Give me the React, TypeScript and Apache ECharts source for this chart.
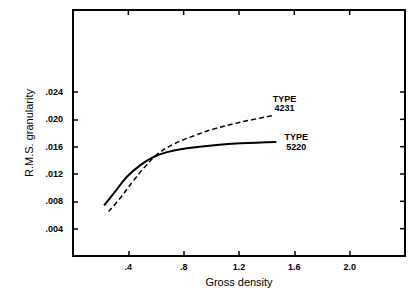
import React, { useEffect, useRef } from "react";
import * as echarts from "echarts";

const xTickValues = [0.4, 0.8, 1.2, 1.6, 2.0];
const xTickLabels = [".4", ".8", "1.2", "1.6", "2.0"];
const yTickValues = [0.004, 0.008, 0.012, 0.016, 0.02, 0.024];
const yTickLabels = [".004", ".008", ".012", ".016", ".020", ".024"];
const xMin = 0;
const xMax = 2.4;
const yMin = 0;
const yMax = 0.036;

const type5220X = [0.225, 0.3, 0.39, 0.487, 0.584, 0.68, 0.8, 1.02, 1.21, 1.47];
const type5220Y = [0.0074, 0.0093, 0.0116, 0.0133, 0.0145, 0.0152, 0.0157, 0.0162, 0.0165, 0.0167];

const type4231X = [0.257, 0.342, 0.44, 0.535, 0.61, 0.73, 0.875, 1.02, 1.215, 1.457];
const type4231Y = [0.0065, 0.0085, 0.0111, 0.0134, 0.0149, 0.0164, 0.0176, 0.0186, 0.0196, 0.0206];

const FONT = "Liberation Sans";

function labelFor(values: number[], labels: string[]) {
  return (v: number) => {
    const i = values.findIndex((t) => Math.abs(t - v) < 1e-9);
    return i >= 0 ? labels[i] : "";
  };
}

export default function App() {
  const ref = useRef<HTMLDivElement>(null);
  useEffect(() => {
    if (!ref.current) return;
    const chart = echarts.init(ref.current, undefined, { renderer: "svg" });
    const mkLine = () => ({ show: true, onZero: false, lineStyle: { color: "#000", width: 2 } });
    const mkTick = (vals: number[]) => ({
      show: true,
      inside: true,
      length: 5,
      customValues: vals,
      lineStyle: { color: "#000", width: 1.5 },
    });
    const labelStyle = {
      color: "#000",
      fontFamily: FONT,
      fontWeight: "bold",
      fontSize: 9,
    };
    chart.setOption({
      animation: false,
      grid: { left: 73, right: 9, top: 10, bottom: 34 },
      xAxis: {
        type: "value",
        min: xMin,
        max: xMax,
        interval: 0.4,
        position: "bottom",
        axisLine: mkLine(),
        axisTick: mkTick(xTickValues),
        splitLine: { show: false },
        axisLabel: {
          ...labelStyle,
          customValues: xTickValues,
          formatter: labelFor(xTickValues, xTickLabels),
          margin: 6,
        },
        name: "Gross density",
        nameLocation: "middle",
        nameGap: 20,
        nameTextStyle: { color: "#000", fontFamily: FONT, fontSize: 11 },
      },
      yAxis: {
        type: "value",
        min: yMin,
        max: yMax,
        interval: 0.004,
        position: "left",
        axisLine: mkLine(),
        axisTick: mkTick(yTickValues),
        splitLine: { show: false },
        axisLabel: {
          ...labelStyle,
          customValues: yTickValues,
          formatter: labelFor(yTickValues, yTickLabels),
          margin: 10,
        },
        name: "R.M.S. granularity",
        nameLocation: "middle",
        nameGap: 38,
        nameTextStyle: { color: "#000", fontFamily: FONT, fontSize: 11 },
      },
      series: [
        {
          type: "custom",
          name: "frame",
          silent: true,
          clip: false,
          z: 5,
          data: [[xMin, yMin]],
          renderItem: (_params: any, api: any) => {
            const bl = api.coord([xMin, yMin]);
            const tr = api.coord([xMax, yMax]);
            const children: any[] = [
              {
                type: "polyline",
                shape: {
                  points: [
                    [bl[0], bl[1]],
                    [bl[0], tr[1]],
                    [tr[0], tr[1]],
                    [tr[0], bl[1]],
                    [bl[0], bl[1]],
                  ],
                },
                style: { fill: "none", stroke: "#000", lineWidth: 2 },
              },
            ];
            xTickValues.forEach((v) => {
              const p = api.coord([v, yMax]);
              children.push({
                type: "line",
                shape: { x1: p[0], y1: p[1], x2: p[0], y2: p[1] + 5 },
                style: { stroke: "#000", lineWidth: 1.5 },
              });
            });
            yTickValues.forEach((v) => {
              const p = api.coord([xMax, v]);
              children.push({
                type: "line",
                shape: { x1: p[0] - 5, y1: p[1], x2: p[0], y2: p[1] },
                style: { stroke: "#000", lineWidth: 1.5 },
              });
            });
            return { type: "group", children };
          },
        },
        {
          type: "line",
          name: "5220",
          data: type5220X.map((x, i) => [x, type5220Y[i]]),
          smooth: 0.4,
          showSymbol: false,
          lineStyle: { color: "#000", width: 2 },
          endLabel: {
            ...labelStyle,
            show: true,
            formatter: "TYPE\n5220",
            lineHeight: 10,
            align: "center",
            offset: [12, 0],
          },
        },
        {
          type: "line",
          name: "4231",
          data: type4231X.map((x, i) => [x, type4231Y[i]]),
          smooth: 0.4,
          showSymbol: false,
          lineStyle: { color: "#000", width: 1.5, type: [5, 3] },
          endLabel: {
            ...labelStyle,
            show: true,
            formatter: "TYPE\n4231",
            lineHeight: 9,
            align: "center",
            offset: [2, -12],
          },
        },
      ],
    });
    return () => chart.dispose();
  }, []);
  return <div ref={ref} style={{ width: 414, height: 292, position: "absolute", left: 0, top: 0 }} />;
}
